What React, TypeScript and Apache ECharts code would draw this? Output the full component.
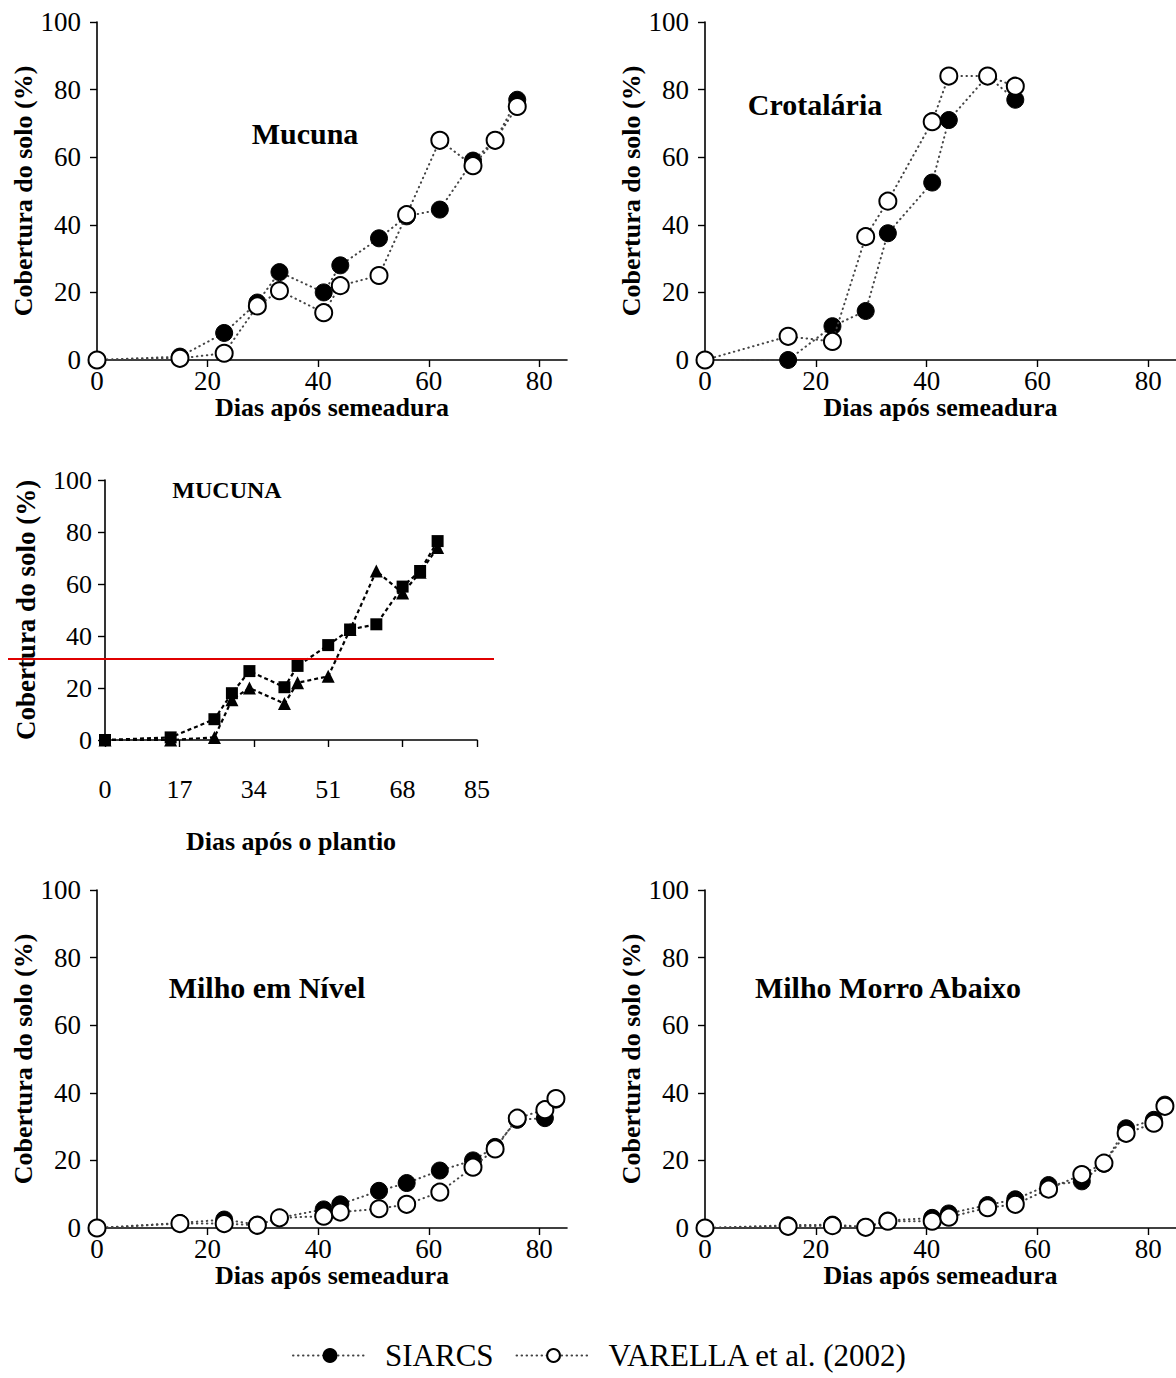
import React, { useEffect, useRef } from "react";
import * as echarts from "echarts";

// ---------- DATA ----------
const mucunaDays = [0, 15, 23, 29, 33, 41, 44, 51, 56, 62, 68, 72, 76];
const mucunaSiarcs = [0, 1, 8, 17, 26, 20, 28, 36, 42.5, 44.5, 59, 65, 77];
const mucunaVarella = [0, 0.5, 2, 16, 20.5, 14, 22, 25, 43, 65, 57.5, 65, 75];

const crotDays = [0, 15, 23, 29, 33, 41, 44, 51, 56];
const crotSiarcs = [0, 0, 10, 14.5, 37.5, 52.5, 71, 84, 77];
const crotVarella = [0, 7, 5.5, 36.5, 47, 70.5, 84, 84, 81];

const mucuna2Days = [0, 15, 25, 29, 33, 41, 44, 51, 56, 62, 68, 72, 76];
const mucuna2Squares = [0, 1, 8, 18, 26.5, 20.3, 28.5, 36.5, 42.5, 44.5, 59, 65, 76.5];
const mucuna2Triangles = [0, 0, 1, 15.5, 20, 14, 22, 24.5, 42.5, 65, 56.5, 64.5, 74];

const milhoDays = [0, 15, 23, 29, 33, 41, 44, 51, 56, 62, 68, 72, 76, 81, 83];
const nivelSiarcs = [0, 1.5, 2.5, 1, 3, 5.5, 7, 11, 13.3, 17, 20, 24, 32, 32.5, 38];
const nivelVarella = [0, 1.3, 1.3, 0.8, 3, 3.5, 4.7, 5.7, 7, 10.6, 18, 23.4, 32.5, 35, 38.3];
const morroSiarcs = [0, 0.8, 1, 0.3, 2.2, 3, 4.3, 6.8, 8.5, 12.7, 13.8, 19, 29.5, 32, 36.5];
const morroVarella = [0, 0.5, 0.7, 0.2, 2, 2, 3.2, 6, 7, 11.5, 15.8, 19.2, 28, 31, 36];

const xTicksMain = [0, 20, 40, 60, 80];
const xTicksMucuna2 = [0, 17, 34, 51, 68, 85];
const yTicks = [0, 20, 40, 60, 80, 100];

const SIARCS = "SIARCS";
const VARELLA = "VARELLA et al. (2002)";
const yTitle = "Cobertura do solo (%)";
const xTitleMain = "Dias após semeadura";
const xTitleMucuna2 = "Dias após o plantio";

const panelTitles = ["Mucuna", "Crotalária", "MUCUNA", "Milho em Nível", "Milho Morro Abaixo"];

const FONT = "'Liberation Serif', 'Times New Roman', serif";

const zip = (xs: number[], ys: number[]) => xs.map((x, i) => [x, ys[i]]);

export default function App() {
  const ref = useRef<HTMLDivElement>(null);

  useEffect(() => {
    document.body.style.margin = "0";
    const chart = echarts.init(ref.current!, null, { renderer: "svg" });

    const grids = [
      { left: 97, top: 22, width: 470, height: 338 },
      { left: 705, top: 22, width: 471, height: 338 },
      { left: 105, top: 480, width: 372, height: 260 },
      { left: 97, top: 890, width: 470, height: 338 },
      { left: 705, top: 890, width: 471, height: 338 },
    ];

    const axisLine = { show: true, lineStyle: { color: "#000", width: 1.6 } };

    const xAxes = grids.map((_, i) => {
      const isM2 = i === 2;
      const ticks = isM2 ? xTicksMucuna2 : xTicksMain;
      return {
        type: "value",
        gridIndex: i,
        min: 0,
        max: 85,
        axisLine,
        axisTick: {
          show: true,
          length: 7,
          inside: false,
          customValues: isM2 ? ticks : ticks.slice(1),
          lineStyle: { color: "#000", width: 1.4 },
        },
        axisLabel: {
          customValues: ticks,
          color: "#000",
          fontFamily: FONT,
          fontSize: isM2 ? 26 : 27,
          margin: isM2 ? 36 : 7,
        },
        splitLine: { show: false },
        name: isM2 ? xTitleMucuna2 : xTitleMain,
        nameLocation: "middle",
        nameGap: isM2 ? 88 : 31,
        nameTextStyle: {
          color: "#000",
          fontFamily: FONT,
          fontWeight: "bold",
          fontSize: 26,
        },
      };
    });

    const yAxes = grids.map((_, i) => {
      const isM2 = i === 2;
      return {
        type: "value",
        gridIndex: i,
        min: 0,
        max: 100,
        interval: 20,
        axisLine,
        axisTick: {
          show: true,
          length: 7,
          customValues: yTicks,
          lineStyle: { color: "#000", width: 1.4 },
        },
        axisLabel: {
          color: "#000",
          fontFamily: FONT,
          fontSize: isM2 ? 26 : 27,
          margin: isM2 ? 13 : 16,
        },
        splitLine: { show: false },
        name: yTitle,
        nameLocation: "middle",
        nameRotate: 90,
        nameGap: isM2 ? 66 : 58,
        nameTextStyle: {
          color: "#000",
          fontFamily: FONT,
          fontWeight: "bold",
          fontSize: isM2 ? 27 : 26,
        },
      };
    });

    const dotted = { color: "#444", width: 2, type: [0.5, 4.5], cap: "round" };
    const siarcsSeries = (idx: number, xs: number[], ys: number[]) => ({
      type: "line",
      name: SIARCS,
      xAxisIndex: idx,
      yAxisIndex: idx,
      data: zip(xs, ys),
      symbol: "circle",
      symbolSize: 17,
      itemStyle: { color: "#000", borderColor: "#000", borderWidth: 1 },
      lineStyle: dotted,
      z: 2,
    });
    const varellaSeries = (idx: number, xs: number[], ys: number[]) => ({
      type: "line",
      name: VARELLA,
      xAxisIndex: idx,
      yAxisIndex: idx,
      data: zip(xs, ys),
      symbol: "circle",
      symbolSize: 17,
      itemStyle: { color: "#fff", borderColor: "#000", borderWidth: 2 },
      lineStyle: dotted,
      z: 3,
    });

    const dashed = { color: "#000", width: 2.2, type: [4, 3] };

    const series: any[] = [
      siarcsSeries(0, mucunaDays, mucunaSiarcs),
      varellaSeries(0, mucunaDays, mucunaVarella),
      siarcsSeries(1, crotDays, crotSiarcs),
      varellaSeries(1, crotDays, crotVarella),
      {
        type: "line",
        name: "Mucuna SIARCS (quadrados)",
        xAxisIndex: 2,
        yAxisIndex: 2,
        data: zip(mucuna2Days, mucuna2Squares),
        symbol: "rect",
        symbolSize: 12,
        itemStyle: { color: "#000" },
        lineStyle: dashed,
        z: 2,
      },
      {
        type: "line",
        name: "Mucuna VARELLA (triângulos)",
        xAxisIndex: 2,
        yAxisIndex: 2,
        data: zip(mucuna2Days, mucuna2Triangles),
        symbol: "triangle",
        symbolSize: 13,
        itemStyle: { color: "#000" },
        lineStyle: dashed,
        z: 3,
      },
      siarcsSeries(3, milhoDays, nivelSiarcs),
      varellaSeries(3, milhoDays, nivelVarella),
      siarcsSeries(4, milhoDays, morroSiarcs),
      varellaSeries(4, milhoDays, morroVarella),
    ];

    const titleText = (text: string, x: number, y: number, size: number) => ({
      type: "text",
      x,
      y,
      style: {
        text,
        fill: "#000",
        font: `bold ${size}px ${FONT}`,
        textAlign: "center",
        textVerticalAlign: "middle",
      },
      z: 10,
    });

    chart.setOption({
      animation: false,
      backgroundColor: "#fff",
      grid: grids.map((g) => ({ ...g, containLabel: false })),
      xAxis: xAxes,
      yAxis: yAxes,
      series,
      legend: {
        data: [SIARCS, VARELLA],
        left: 292,
        top: 1340,
        padding: 0,
        itemWidth: 74,
        itemHeight: 16,
        itemGap: 22,
        textStyle: {
          color: "#000",
          fontFamily: FONT,
          fontSize: 31,
          lineHeight: 31,
          padding: [0, 0, 0, 13],
        },
        selectedMode: false,
      },
      graphic: [
        titleText(panelTitles[0], 305, 133, 30),
        titleText(panelTitles[1], 815, 104, 30),
        titleText(panelTitles[2], 227, 490, 24),
        titleText(panelTitles[3], 267, 987, 30),
        titleText(panelTitles[4], 888, 987, 30),
        {
          type: "line",
          shape: { x1: 8, y1: 659, x2: 494, y2: 659 },
          style: { stroke: "#e00000", lineWidth: 2 },
          z: 20,
        },
      ],
    });

    return () => chart.dispose();
  }, []);

  return <div ref={ref} style={{ width: 1176, height: 1378 }} />;
}
